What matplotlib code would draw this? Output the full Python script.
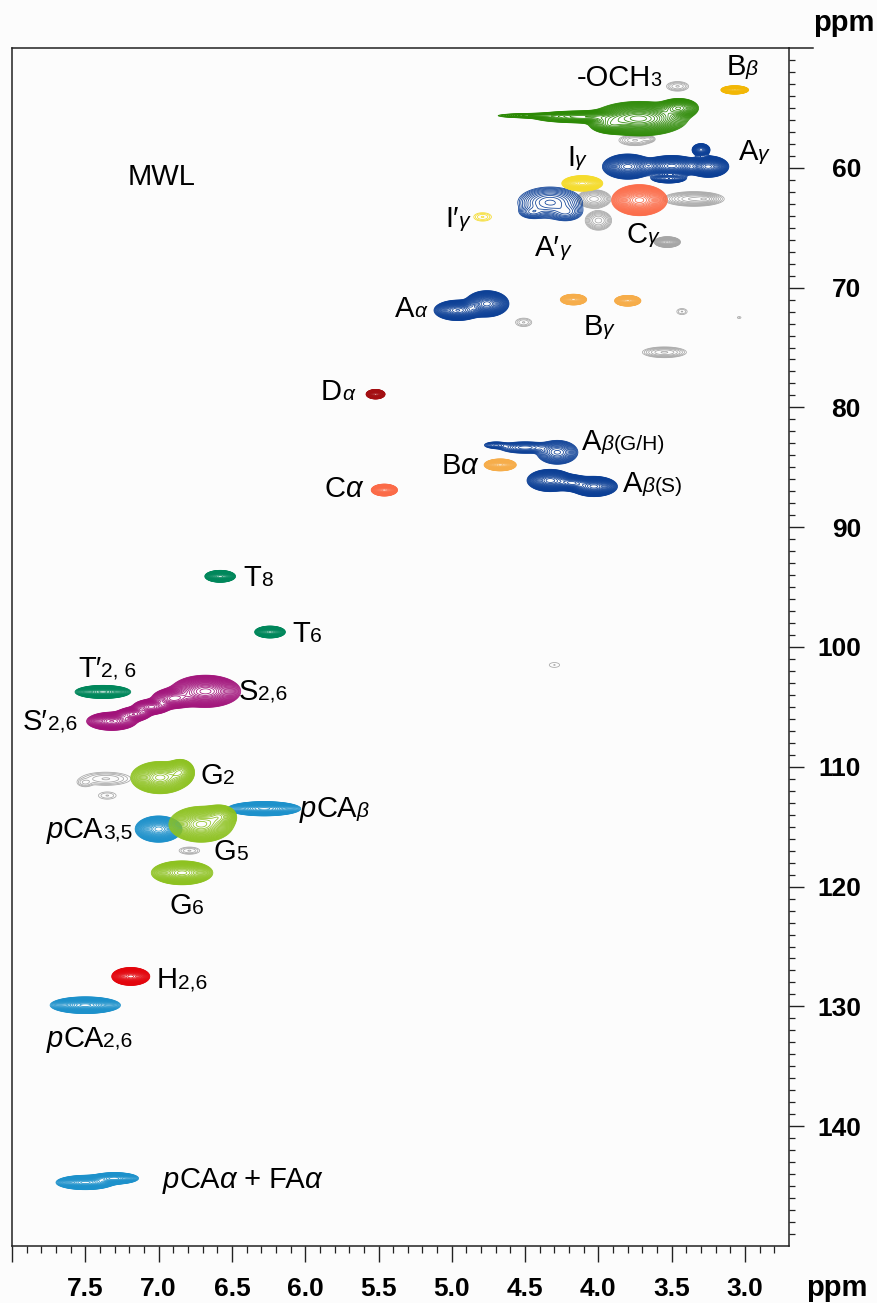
import numpy as np
import matplotlib
matplotlib.use("Agg")
import matplotlib.pyplot as plt
from matplotlib.font_manager import FontProperties
from matplotlib.offsetbox import TextArea, HPacker, AnnotationBbox

# ---------------- data: HSQC cross peaks (1H ppm, 13C ppm) ----------------
peak_cluster = ["x1", "x2", "x2", "x3", "x3", "x3", "x3", "x4", "x5", "x6", "x7", "x8",
                "x9", "x10", "x10", "x11", "x12",
                "OME", "OME", "OME", "OME", "OME",
                "Bb",
                "Ag", "Ag", "Ag", "Ag", "Ag",
                "Apg", "Apg", "Apg",
                "Ig", "Ipg", "Cg",
                "Aa", "Aa",
                "Bg1", "Bg2", "Da",
                "AbGH", "AbGH", "AbGH",
                "Ba",
                "AbS", "AbS", "AbS",
                "Ca", "T8", "T6", "Tp",
                "S", "S", "S", "S", "S",
                "G2", "G2",
                "pCA35", "pCAb",
                "G5", "G5",
                "G6", "H26", "pCA26",
                "pCAa", "pCAa"]
peak_h = [3.46, 3.75, 3.66, 4.03, 4.00, 3.35, 3.27, 3.53, 4.51, 3.43, 3.04, 3.55,
          4.30, 7.36, 7.50, 7.35, 6.79,
          3.72, 3.45, 3.92, 4.12, 4.48,
          3.07,
          3.25, 3.50, 3.80, 3.30, 3.52,
          4.33, 4.22, 4.45,
          4.11, 4.79, 3.72,
          4.96, 4.76,
          4.17, 3.80, 5.52,
          4.28, 4.50, 4.70,
          4.67,
          4.33, 4.03, 4.18,
          5.46, 6.58, 6.24, 7.38,
          6.68, 6.90, 7.05, 7.17, 7.32,
          6.99, 6.85,
          7.00, 6.28,
          6.71, 6.58,
          6.84, 7.19, 7.50,
          7.50, 7.30]
peak_c = [53.2, 57.7, 57.6, 62.6, 64.4, 62.6, 62.6, 66.2, 72.9, 72.0, 72.5, 75.4,
          101.5, 111.0, 111.3, 112.4, 117.0,
          55.9, 55.0, 56.4, 55.75, 55.65,
          53.5,
          59.9, 59.85, 59.9, 58.5, 60.9,
          62.9, 63.7, 63.7,
          61.3, 64.1, 62.7,
          71.9, 71.35,
          71.0, 71.1, 78.9,
          83.75, 83.35, 83.15,
          84.8,
          86.1, 86.6, 86.3,
          86.9, 94.1, 98.75, 103.75,
          103.7, 104.3, 105.0, 105.6, 106.2,
          110.9, 110.4,
          115.2, 113.5,
          114.8, 114.1,
          118.85, 127.5, 129.9,
          144.7, 144.35]
peak_wh = [0.075, 0.11, 0.05, 0.12, 0.10, 0.22, 0.08, 0.09, 0.055, 0.035, 0.012, 0.15,
           0.035, 0.17, 0.06, 0.06, 0.07,
           0.33, 0.15, 0.15, 0.40, 0.30,
           0.095,
           0.14, 0.20, 0.18, 0.07, 0.14,
           0.22, 0.12, 0.10,
           0.14, 0.06, 0.19,
           0.17, 0.15,
           0.09, 0.09, 0.065,
           0.14, 0.20, 0.10,
           0.11,
           0.16, 0.16, 0.12,
           0.09, 0.105, 0.105, 0.19,
           0.24, 0.16, 0.14, 0.13, 0.18,
           0.20, 0.10,
           0.16, 0.25,
           0.22, 0.12,
           0.21, 0.13, 0.24,
           0.20, 0.17]
peak_wc = [0.40, 0.45, 0.30, 0.80, 0.90, 0.65, 0.40, 0.45, 0.35, 0.25, 0.08, 0.45,
           0.20, 0.55, 0.40, 0.30, 0.30,
           1.45, 0.9, 0.8, 0.6, 0.25,
           0.35,
           0.9, 0.9, 1.1, 0.6, 0.45,
           1.3, 0.8, 0.6,
           0.65, 0.35, 1.3,
           0.9, 1.1,
           0.45, 0.45, 0.40,
           1.0, 0.55, 0.35,
           0.5,
           0.95, 0.85, 0.7,
           0.5, 0.5, 0.5, 0.55,
           1.35, 0.9, 0.7, 0.65, 0.8,
           1.35, 1.1,
           1.1, 0.6,
           1.5, 1.0,
           1.0, 0.75, 0.7,
           0.6, 0.5]
peak_amp = [1.0, 1.0, 0.6, 1.0, 0.7, 0.9, 0.6, 1.0, 1.0, 1.0, 1.0, 1.0,
            1.0, 1.0, 0.6, 1.0, 1.0,
            1.0, 0.5, 0.4, 0.4, 0.2,
            1.0,
            1.0, 0.9, 0.8, 0.5, 0.4,
            1.0, 0.5, 0.4,
            1.0, 1.0, 1.0,
            0.75, 1.0,
            1.0, 1.0, 1.0,
            1.0, 0.5, 0.3,
            1.0,
            0.9, 1.0, 0.7,
            1.0, 1.0, 1.0, 1.0,
            1.0, 0.6, 0.55, 0.5, 0.75,
            1.0, 0.6,
            1.0, 1.0,
            1.0, 0.5,
            1.0, 1.0, 1.0,
            1.0, 0.8]

GREY = "#a6a6a6"
BLUE = "#0b3f96"
cluster_color = {
    "x1": GREY, "x2": GREY, "x3": GREY, "x4": GREY, "x5": GREY, "x6": GREY,
    "x7": GREY, "x8": GREY, "x9": GREY, "x10": GREY, "x11": GREY, "x12": GREY,
    "OME": "#2d8a06", "Bb": "#f2b705", "Ag": BLUE, "Apg": BLUE,
    "Ig": "#f5dc2d", "Ipg": "#f5dc2d", "Cg": "#fb6b48", "Aa": BLUE,
    "Bg1": "#f6ad4a", "Bg2": "#f6ad4a", "Da": "#a30f12", "AbGH": BLUE,
    "Ba": "#f6ad4a", "AbS": BLUE, "Ca": "#fb6b48",
    "T8": "#00875b", "T6": "#00875b", "Tp": "#00875b", "S": "#a1117a",
    "G2": "#8dc21f", "pCA35": "#1d91cb", "pCAb": "#1d91cb", "G5": "#8dc21f",
    "G6": "#8dc21f", "H26": "#e3050d", "pCA26": "#1d91cb", "pCAa": "#1d91cb",
}
cluster_nlev = {"x1": 5, "x2": 6, "x3": 10, "x4": 20, "x5": 4, "x6": 3, "x7": 2,
                "x8": 7, "x9": 2, "x10": 5, "x11": 3, "x12": 4,
                "Apg": 12, "AbGH": 16, "Ipg": 4}

x_ticks = [7.5, 7.0, 6.5, 6.0, 5.5, 5.0, 4.5, 4.0, 3.5, 3.0]
y_ticks = [60, 70, 80, 90, 100, 110, 120, 130, 140]

# labels: list of (text, relative size, italic)
labels = [
    ([("MWL", 1, False)], 6.98, 60.8),
    ([("-OCH", 1, False), ("3", 0.68, False)], 3.86, 52.5),
    ([("B", 1, False), ("β", 0.72, True)], 3.02, 51.6),
    ([("A", 1, False), ("γ", 0.72, True)], 2.94, 58.7),
    ([("I", 1, False), ("γ", 0.72, True)], 4.15, 59.2),
    ([("I′", 1, False), ("γ", 0.72, True)], 4.96, 64.3),
    ([("A′", 1, False), ("γ", 0.72, True)], 4.31, 66.7),
    ([("C", 1, False), ("γ", 0.72, True)], 3.70, 65.6),
    ([("A", 1, False), ("α", 0.72, True)], 5.28, 71.8),
    ([("B", 1, False), ("γ", 0.72, True)], 4.00, 73.25),
    ([("D", 1, False), ("α", 0.72, True)], 5.78, 78.7),
    ([("A", 1, False), ("β", 0.72, True), ("(G/H)", 0.72, False)], 3.83, 82.9),
    ([("B", 1, False), ("α", 1, True)], 4.95, 84.9),
    ([("A", 1, False), ("β", 0.72, True), ("(S)", 0.72, False)], 3.63, 86.4),
    ([("C", 1, False), ("α", 1, True)], 5.74, 86.8),
    ([("T", 1, False), ("8", 0.72, False)], 6.32, 94.2),
    ([("T", 1, False), ("6", 0.72, False)], 5.99, 98.9),
    ([("T′", 1, False), ("2, 6", 0.72, False)], 7.35, 101.8),
    ([("S", 1, False), ("2,6", 0.72, False)], 6.29, 103.75),
    ([("S′", 1, False), ("2,6", 0.72, False)], 7.74, 106.25),
    ([("G", 1, False), ("2", 0.72, False)], 6.60, 110.8),
    ([("p", 1, True), ("CA", 1, False), ("β", 0.72, True)], 5.80, 113.5),
    ([("p", 1, True), ("CA", 1, False), ("3,5", 0.72, False)], 7.47, 115.3),
    ([("G", 1, False), ("5", 0.72, False)], 6.51, 117.1),
    ([("G", 1, False), ("6", 0.72, False)], 6.81, 121.6),
    ([("H", 1, False), ("2,6", 0.72, False)], 6.84, 127.8),
    ([("p", 1, True), ("CA", 1, False), ("2,6", 0.72, False)], 7.47, 132.7),
    ([("p", 1, True), ("CA", 1, False), ("α", 1, True), (" + FA", 1, False), ("α", 1, True)], 6.43, 144.5),
]

# ---------------- figure ----------------
BG = "#fcfcfc"
fig = plt.figure(figsize=(8.77, 13.03), dpi=100, facecolor=BG)
ax = fig.add_axes([12 / 877, 1 - 1246 / 1303, (789 - 12) / 877, (1246 - 48) / 1303])
ax.set_facecolor(BG)

LO = 0.05
kfac = np.sqrt(2 * np.log(1 / LO))
ph = np.array(peak_h); pc = np.array(peak_c)
pwh = np.array(peak_wh) / kfac; pwc = np.array(peak_wc) / kfac
pa = np.array(peak_amp)
pcl = np.array(peak_cluster)

order = []
for c in peak_cluster:
    if c not in order:
        order.append(c)

for cl in order:
    idx = np.where(pcl == cl)[0]
    xmin = (ph[idx] - 4 * pwh[idx]).min(); xmax = (ph[idx] + 4 * pwh[idx]).max()
    ymin = (pc[idx] - 4 * pwc[idx]).min(); ymax = (pc[idx] + 4 * pwc[idx]).max()
    xs = np.arange(xmin, xmax, 0.002)
    ys = np.arange(ymin, ymax, 0.02)
    Z = np.zeros((len(ys), len(xs)))
    for i in idx:
        gx = np.exp(-0.5 * ((xs - ph[i]) / pwh[i]) ** 2)
        gy = np.exp(-0.5 * ((ys - pc[i]) / pwc[i]) ** 2)
        Z += pa[i] * np.outer(gy, gx)
    zmax = Z.max()
    n = cluster_nlev.get(cl, 26)
    levels = zmax * np.geomspace(LO, 0.93, n)
    ax.contour(xs, ys, Z, levels=levels, colors=cluster_color[cl], linewidths=0.55)

ax.set_xlim(8.0, 2.7)
ax.set_ylim(150, 50)

# ticks
tick_fp = FontProperties(family="Liberation Sans", weight="bold", size=19)
ax.xaxis.set_ticks_position("bottom")
ax.yaxis.set_ticks_position("right")
ax.set_xticks([8.0] + x_ticks)
ax.set_xticklabels([""] + [f"{v:.1f}" for v in x_ticks], fontproperties=tick_fp)
ax.set_xticks(np.round(np.arange(2.8, 8.0, 0.1), 1), minor=True)
ax.set_yticks(y_ticks)
ax.set_yticklabels([str(v) for v in y_ticks], ha="right", fontproperties=tick_fp)
ax.set_yticks(np.arange(51, 150, 1), minor=True)
ax.tick_params(axis="x", which="major", direction="out", length=11.5, width=1.0,
               pad=11, colors="#222222", labelcolor="black")
ax.tick_params(axis="x", which="minor", direction="out", length=5, width=0.9, colors="#222222")
ax.tick_params(axis="y", which="major", direction="out", length=10.8, width=1.0,
               pad=41, colors="#222222", labelcolor="black", right=True, left=False,
               labelright=True, labelleft=False)
ax.tick_params(axis="y", which="minor", direction="out", length=4.3, width=0.9,
               colors="#222222", right=True, left=False)
for tk in ax.yaxis.get_major_ticks():
    tk.label2.set_fontproperties(tick_fp)
    tk.label2.set_horizontalalignment("right")

for sp in ax.spines.values():
    sp.set_linewidth(1.1)
    sp.set_color("#222222")
ax.plot([1.0, 1.031], [1.0, 1.0], transform=ax.transAxes, clip_on=False,
        color="#222222", lw=1.1)

fig.text(844 / 877, 1 - 23 / 1303, "ppm", ha="center", va="center",
         family="Liberation Sans", weight="bold", size=21)
fig.text(837 / 877, 1 - 1288 / 1303, "ppm", ha="center", va="center",
         family="Liberation Sans", weight="bold", size=21)

# labels
FS = 21
for segs, lx, ly in labels:
    parts = []
    for txt, rel, ital in segs:
        parts.append(TextArea(txt, textprops=dict(size=FS * rel, family="Liberation Sans",
                                                  style="italic" if ital else "normal",
                                                  color="black")))
    pack = HPacker(children=parts, align="baseline", pad=0, sep=0)
    ab = AnnotationBbox(pack, (lx, ly), xycoords="data", frameon=False,
                        box_alignment=(0.5, 0.5), pad=0, annotation_clip=False)
    ab.set_zorder(6)
    ax.add_artist(ab)

fig.savefig("out.png", dpi=100, facecolor=BG)
